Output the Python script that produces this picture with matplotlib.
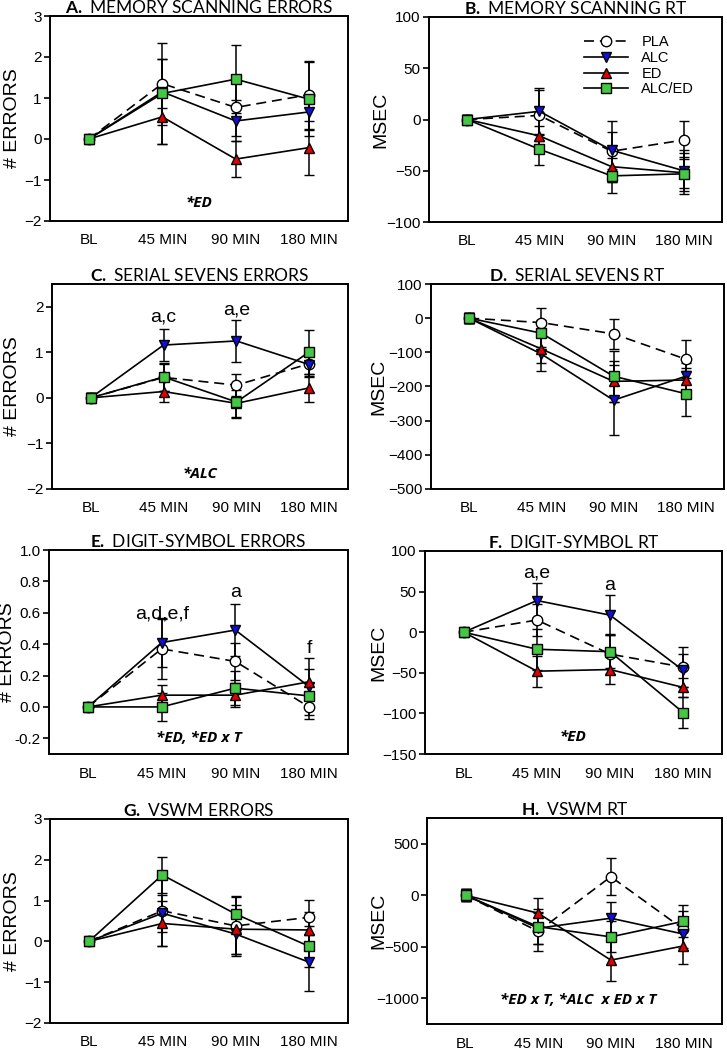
import matplotlib
matplotlib.use("Agg")
import matplotlib.pyplot as plt
from matplotlib.lines import Line2D

plt.rcParams['font.family'] = ['Liberation Sans', 'DejaVu Sans']
plt.rcParams['mathtext.fontset'] = 'custom'
plt.rcParams['mathtext.bf'] = 'Lato:bold'
plt.rcParams['mathtext.rm'] = 'Lato'

times = ["BL", "45 MIN", "90 MIN", "180 MIN"]
groups = ["PLA", "ALC", "ED", "ALC/ED"]

# panel A: memory scanning errors
a_pla = [0, 1.35, 0.77, 1.08]
a_alc = [0, 1.15, 0.44, 0.66]
a_ed = [0, 0.54, -0.49, -0.21]
a_alced = [0, 1.11, 1.46, 0.97]
a_se = [[0.1, 0.6, 0.7, 0.83], [0.1, 0.8, 0.5, 0.45], [0.1, 0.66, 0.43, 0.66], [0.1, 1.22, 0.83, 0.9]]

# panel B: memory scanning RT
b_pla = [0, 4, -31, -20]
b_alc = [0, 8, -30, -50]
b_ed = [0, -16, -46, -52]
b_alced = [0, -29, -55, -53]
b_se = [[4, 25, 30, 19], [4, 23, 18, 20], [4, 10, 15, 15], [4, 15, 17, 20]]

# panel C: serial sevens errors
c_pla = [0, 0.45, 0.28, 0.75]
c_alc = [0, 1.16, 1.25, 0.73]
c_ed = [0, 0.14, -0.12, 0.22]
c_alced = [0, 0.46, -0.09, 1.01]
c_se = [[0.1, 0.3, 0.24, 0.3], [0.1, 0.36, 0.46, 0.25], [0.1, 0.22, 0.3, 0.31], [0.1, 0.3, 0.35, 0.49]]

# panel D: serial sevens RT
d_pla = [0, -13, -46, -120]
d_alc = [0, -105, -240, -170]
d_ed = [0, -90, -185, -181]
d_alced = [0, -44, -170, -221]
d_se = [[15, 42, 43, 56], [15, 50, 103, 40], [15, 40, 60, 35], [15, 40, 75, 65]]

# panel E: digit-symbol errors
e_pla = [0, 0.37, 0.29, 0.0]
e_alc = [0, 0.41, 0.49, 0.13]
e_ed = [0, 0.075, 0.075, 0.16]
e_alced = [0, 0.0, 0.12, 0.07]
e_se = [[0.02, 0.19, 0.12, 0.08], [0.02, 0.155, 0.165, 0.18], [0.02, 0.065, 0.075, 0.08], [0.02, 0.09, 0.11, 0.08]]

# panel F: digit-symbol RT
f_pla = [0, 15, -27, -43]
f_alc = [0, 39, 21, -47]
f_ed = [0, -48, -46, -68]
f_alced = [0, -21, -24, -99]
f_se = [[5, 20, 25, 25], [5, 21, 25, 20], [5, 19, 18, 12], [5, 25, 20, 19]]

# panel G: VSWM errors
g_pla = [0, 0.75, 0.38, 0.59]
g_alc = [0, 0.69, 0.18, -0.51]
g_ed = [0, 0.44, 0.3, 0.28]
g_alced = [0, 1.63, 0.67, -0.12]
g_se = [[0.1, 0.87, 0.7, 0.43], [0.1, 0.45, 0.55, 0.7], [0.1, 0.56, 0.6, 0.45], [0.1, 0.44, 0.45, 0.5]]

# panel H: VSWM RT
h_pla = [0, -350, 180, -330]
h_alc = [0, -320, -223, -377]
h_ed = [0, -174, -630, -492]
h_alced = [0, -305, -404, -253]
h_se = [[60, 190, 180, 180], [60, 150, 160, 150], [60, 150, 200, 180], [60, 170, 150, 155]]

styles = [
    dict(marker='o', mfc='white', ls=(0, (6, 3.5))),
    dict(marker='v', mfc='#1010d8', ls='-'),
    dict(marker='^', mfc='#e00000', ls='-'),
    dict(marker='s', mfc='#44c844', ls='-'),
]

W, H = 727, 1049
fig = plt.figure(figsize=(W / 100, H / 100), dpi=100)


def make_ax(x0, x1, yt, yb):
    return fig.add_axes([x0 / W, 1 - yb / H, (x1 - x0) / W, (yb - yt) / H])


def panel(box, letter, name, series, ses, ylim, yticks, ylabel, label_px, fmt=None):
    ax = make_ax(*box)
    x = range(len(times))
    for s, se, st in zip(series, ses, styles):
        ax.errorbar(x, s, yerr=se, color='black', lw=1.2, elinewidth=1.1,
                    capsize=3.5, capthick=1.1, marker=st['marker'], ms=7.5,
                    mfc=st['mfc'], mec='black', mew=1.0, ls=st['ls'])
    ax.set_xlim(-0.53, 3.53)
    ax.set_ylim(*ylim)
    ax.set_yticks(yticks)
    if fmt:
        ax.set_yticklabels([fmt.format(v) for v in yticks])
    ax.set_xticks(list(x))
    ax.set_xticklabels(times)
    ax.tick_params(axis='y', direction='out', length=4, width=1.2, labelsize=11, pad=2)
    ax.tick_params(axis='x', length=0, labelsize=11, pad=9)
    for sp in ax.spines.values():
        sp.set_linewidth(1.4)
    ax.set_ylabel(ylabel, fontsize=14)
    ax.yaxis.set_label_coords((label_px - box[0]) / (box[1] - box[0]), 0.5)
    ax.set_title(r"$\bf{" + letter + r".}$ " + name, fontsize=12.5,
                 family='Lato', pad=1)
    return ax


def stat(ax, x, y, txt):
    ax.text(x, y, txt, fontsize=11, fontweight='bold', style='italic',
            family='Open Sans', ha='center', va='center')


def letters(ax, x, y, txt):
    ax.text(x, y, txt, fontsize=14, ha='center', va='center')


axA = panel((50, 348, 16, 221), "A", "MEMORY SCANNING ERRORS",
            [a_pla, a_alc, a_ed, a_alced], a_se, (-2, 3), [-2, -1, 0, 1, 2, 3], "# ERRORS", 21)
stat(axA, 1.5, -1.55, "*ED")

axB = panel((429, 722, 17, 222), "B", "MEMORY SCANNING RT",
            [b_pla, b_alc, b_ed, b_alced], b_se, (-100, 100), [-100, -50, 0, 50, 100], "MSEC", 389)
handles = [Line2D([], [], color='black', lw=1.2, ls=st['ls'], marker=st['marker'], ms=7.5,
                  mfc=st['mfc'], mec='black') for st in styles]
axB.legend(handles, groups, loc='upper right', bbox_to_anchor=(0.95, 0.975), frameon=False,
           fontsize=10.5, handlelength=3.0, labelspacing=0.12, handletextpad=0.9)

axC = panel((52, 348, 284, 489), "C", "SERIAL SEVENS ERRORS",
            [c_pla, c_alc, c_ed, c_alced], c_se, (-2, 2.5), [-2, -1, 0, 1, 2], "# ERRORS", 21)
stat(axC, 1.5, -1.67, "*ALC")
letters(axC, 1, 1.78, "a,c")
letters(axC, 2, 1.93, "a,e")

axD = panel((431, 724, 284, 489), "D", "SERIAL SEVENS RT",
            [d_pla, d_alc, d_ed, d_alced], d_se, (-500, 100),
            [-500, -400, -300, -200, -100, 0, 100], "MSEC", 387)

axE = panel((49, 348, 550, 754), "E", "DIGIT-SYMBOL ERRORS",
            [e_pla, e_alc, e_ed, e_alced], e_se, (-0.3, 1.0),
            [-0.2, 0.0, 0.2, 0.4, 0.6, 0.8, 1.0], "# ERRORS", 16, fmt="{:.1f}")
stat(axE, 1.5, -0.2, "*ED, *ED x T")
letters(axE, 1, 0.59, "a,d,e,f")
letters(axE, 2, 0.73, "a")
letters(axE, 3, 0.37, "f")

axF = panel((425, 722, 551, 754), "F", "DIGIT-SYMBOL RT",
            [f_pla, f_alc, f_ed, f_alced], f_se, (-150, 100),
            [-150, -100, -50, 0, 50, 100], "MSEC", 387)
stat(axF, 1.5, -129, "*ED")
letters(axF, 1, 73, "a,e")
letters(axF, 2, 58, "a")

axG = panel((50, 348, 819, 1023), "G", "VSWM ERRORS",
            [g_pla, g_alc, g_ed, g_alced], g_se, (-2, 3), [-2, -1, 0, 1, 2, 3], "# ERRORS", 21)

axH = panel((427, 722, 818, 1024), "H", "VSWM RT",
            [h_pla, h_alc, h_ed, h_alced], h_se, (-1250, 750),
            [-1000, -500, 0, 500], "MSEC", 387)
stat(axH, 1.55, -1015, "*ED x T, *ALC  x ED x T")

fig.savefig("out.png", dpi=100)
